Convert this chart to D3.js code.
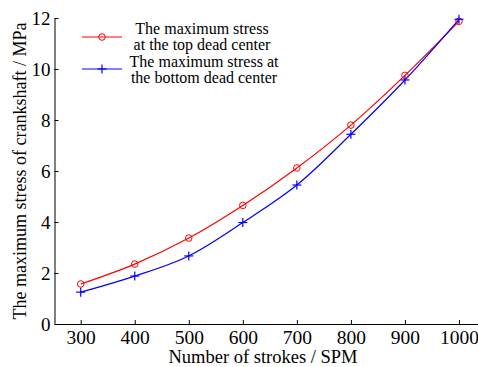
<!DOCTYPE html>
<html><head><meta charset="utf-8">
<script src="https://cdn.jsdelivr.net/npm/d3@7"></script>
<style>body{margin:0;background:#fff}svg{display:block}svg text{font-family:"Liberation Serif","DejaVu Serif","Times New Roman",serif !important;fill:#000}</style>
</head><body>
<script>
const strokes = [300,400,500,600,700,800,900,1000];
const topStress = [1.57,2.35,3.37,4.65,6.12,7.8,9.75,11.87];
const bottomStress = [1.25,1.88,2.67,3.98,5.45,7.44,9.57,11.95];
const xTicks = [300,400,500,600,700,800,900,1000];
const yTicks = [0,2,4,6,8,10,12];
const seriesNames = [["The maximum stress","at the top dead center"],["The maximum stress at","the bottom dead center"]];

const FONT='"Liberation Serif","DejaVu Serif",serif';
const W=478,H=367;
const svg=d3.select("body").append("svg").attr("width",W).attr("height",H).attr("font-family",FONT);
const x=d3.scaleLinear().domain([251.5,1050]).range([54.5,486]);
const y=d3.scaleLinear().domain([0,12]).range([324,18]);

const xAxis=svg.append("g").attr("transform","translate(0,324)")
  .call(d3.axisBottom(x).tickValues(xTicks).tickFormat(d3.format("d")).tickSizeInner(-4).tickSizeOuter(0).tickPadding(7));
xAxis.attr("font-family",FONT).selectAll("text").attr("font-size",19.5).attr("dy","0.68em");
const yAxis=svg.append("g").attr("transform","translate(54.5,0)")
  .call(d3.axisLeft(y).tickValues(yTicks).tickFormat(d3.format("d")).tickSizeInner(-4).tickSizeOuter(0).tickPadding(4));
yAxis.attr("font-family",FONT).selectAll("text").attr("font-size",19).attr("dy","0.35em");
svg.selectAll(".domain,.tick line").attr("stroke","#000").attr("stroke-width",1);

const line=d3.line().x(d=>x(d[0])).y(d=>y(d[1])).curve(d3.curveCatmullRom);
const topData=strokes.map((s,i)=>[s,topStress[i]]);
const botData=strokes.map((s,i)=>[s,bottomStress[i]]);
svg.append("path").datum(topData).attr("d",line).attr("fill","none").attr("stroke","#ff0000").attr("stroke-width",1.2);
svg.append("path").datum(botData).attr("d",line).attr("fill","none").attr("stroke","#0000ff").attr("stroke-width",1.2);
svg.selectAll(".mTop").data(topData).enter().append("circle")
  .attr("cx",d=>x(d[0])).attr("cy",d=>y(d[1])).attr("r",3.3).attr("fill","none").attr("stroke","#ff0000").attr("stroke-width",1);
const plus=(g,cx,cy)=>{g.append("line").attr("x1",cx-4.5).attr("x2",cx+4.5).attr("y1",cy).attr("y2",cy);
  g.append("line").attr("x1",cx).attr("x2",cx).attr("y1",cy-4.5).attr("y2",cy+4.5);};
const pg=svg.append("g").attr("stroke","#0000ff").attr("stroke-width",1.2);
botData.forEach(d=>plus(pg,x(d[0]),y(d[1])));

svg.append("text").attr("x",263).attr("y",363).attr("text-anchor","middle").attr("font-size",18.5).text("Number of strokes / SPM");
svg.append("text").attr("transform","translate(26,171) rotate(-90)").attr("text-anchor","middle").attr("font-size",18).text("The maximum stress of crankshaft / MPa");

// legend
const lg=svg.append("g");
const ly=[37,69];
const colors=["#ff0000","#0000ff"];
ly.forEach((yy,i)=>{
  lg.append("line").attr("x1",82).attr("x2",122).attr("y1",yy).attr("y2",yy).attr("stroke",colors[i]).attr("stroke-width",1.2);
  if(i===0) lg.append("circle").attr("cx",102).attr("cy",yy).attr("r",3.3).attr("fill","none").attr("stroke",colors[i]);
  else { const g=lg.append("g").attr("stroke",colors[i]).attr("stroke-width",1.2); plus(g,102,yy); }
  seriesNames[i].forEach((t,j)=>{
    lg.append("text").attr("x",i===0?202:204).attr("y",yy-1+j*15.5-(i===0?2:1)).attr("text-anchor","middle").attr("font-size",16).text(t);
  });
});
</script>
</body></html>
